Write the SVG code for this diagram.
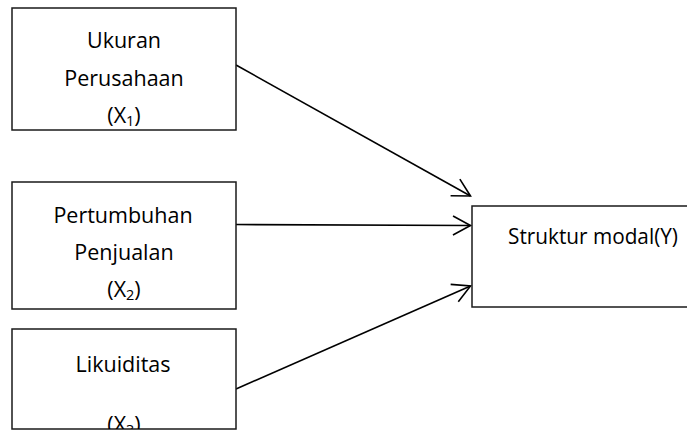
<svg xmlns="http://www.w3.org/2000/svg" width="687" height="433" viewBox="0 0 687 433">
<style>
.box{fill:#fff;stroke:#1a1a1a;stroke-width:1.5}
.t{font-family:"Open Sans","Noto Sans",sans-serif;font-size:21.5px;fill:#000;text-anchor:middle}
.sub{font-size:14.5px}
.c{stroke:#000;stroke-width:1.6;fill:none}
</style>
<defs>
<marker id="ah" markerUnits="userSpaceOnUse" markerWidth="30" markerHeight="30" refX="0" refY="0" viewBox="-22 -15 24 30" orient="auto" overflow="visible">
<path d="M-17.5,-9.5 L0,0 L-17.5,9.5" fill="none" stroke="#000" stroke-width="1.6"/>
</marker>
<clipPath id="c3"><rect x="12" y="329" width="224" height="100"/></clipPath>
</defs>
<rect width="687" height="433" fill="#fff"/>
<g id="connectors">
<line class="c" x1="236" y1="65" x2="470.5" y2="196" marker-end="url(#ah)"/>
<line class="c" x1="236" y1="224.5" x2="470.5" y2="225.5" marker-end="url(#ah)"/>
<line class="c" x1="236" y1="389" x2="470.5" y2="286" marker-end="url(#ah)"/>
</g>
<g id="node-x1">
<rect class="box" x="12" y="8" width="224" height="122"/>
<text class="t" x="124" y="48">Ukuran</text>
<text class="t" x="124" y="86">Perusahaan</text>
<text class="t" x="124" y="123">(X<tspan class="sub" dy="3">1</tspan><tspan dy="-3">)</tspan></text>
</g>
<g id="node-x2">
<rect class="box" x="12" y="182" width="224" height="127"/>
<text class="t" x="123" y="223">Pertumbuhan</text>
<text class="t" x="124" y="260">Penjualan</text>
<text class="t" x="124" y="297">(X<tspan class="sub" dy="3">2</tspan><tspan dy="-3">)</tspan></text>
</g>
<g id="node-x3">
<rect class="box" x="12" y="329" width="224" height="100"/>
<text class="t" x="123" y="372">Likuiditas</text>
<g clip-path="url(#c3)"><text class="t" x="124" y="432">(X<tspan class="sub" dy="3">3</tspan><tspan dy="-3">)</tspan></text></g>
</g>
<g id="node-y">
<rect class="box" x="472" y="206" width="220" height="101"/>
<text class="t" x="508" y="244" style="text-anchor:start" textLength="170" lengthAdjust="spacingAndGlyphs">Struktur modal(Y)</text>
</g>
</svg>
